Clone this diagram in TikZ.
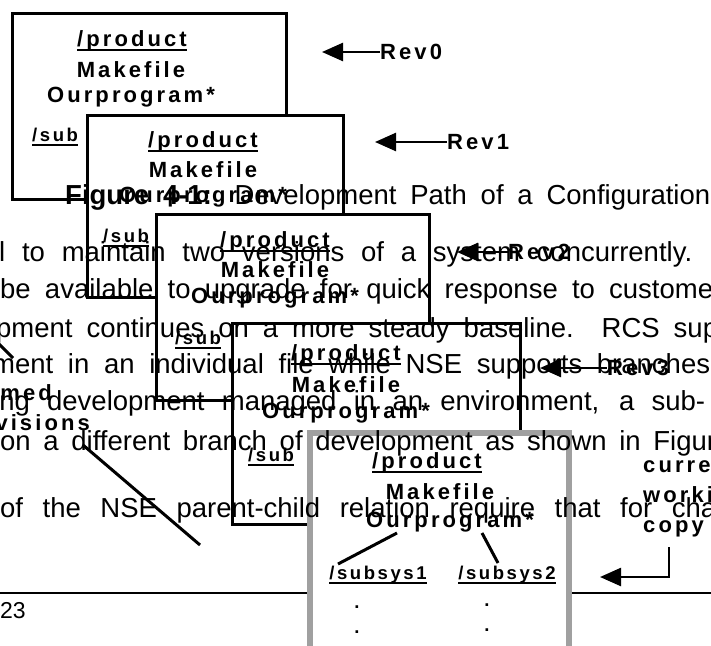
\documentclass[tikz,border=0pt]{standalone}
\usepackage{fontspec}
\setmainfont{Liberation Sans}
\newfontfamily\figfont[LetterSpace=14]{Liberation Sans}
\usetikzlibrary{arrows.meta}
\definecolor{boxgray}{RGB}{160,160,160}

\newcommand{\figul}[1]{\setbox0=\hbox{#1}\rlap{\raisebox{-4pt}{\rule{\wd0}{1.6pt}}}\box0}

\tikzset{
    verbox/.style={draw, line width=3pt, fill=white, anchor=north west, outer sep=0pt, inner sep=0pt},
    figlbl/.style={font=\figfont\bfseries\fontsize{22}{24}\selectfont, inner sep=0pt},
    sublbl/.style={font=\figfont\bfseries\fontsize{18.5}{20}\selectfont, inner sep=0pt},
    pagetxt/.style={font=\fontsize{27.5}{30}\selectfont, inner sep=0pt, anchor=base west},
    revarrow/.style={line width=2.5pt, -{Triangle[length=21pt, width=18pt]}},
    figline/.style={line width=3pt}
}

\begin{document}
\begin{tikzpicture}[x=1pt, y=-1pt]
                \useasboundingbox (0,0) rectangle (711,645);
                \clip (0,0) rectangle (711,645);

                % page rule and page number
                \coordinate (rulel) at (0,593);
                \coordinate (ruler) at (711,593);
                \draw[line width=1.2pt] (rulel) -- (ruler);
                \node[pagetxt, font=\fontsize{23}{26}\selectfont] (pgno) at (0,618) {23};

                % Rev0
                \node[verbox, minimum width=274pt, minimum height=186pt] (box0) at (12,13) {};
                \node[figlbl] (prod0) at (132,41) {\figul{/product}};
                \node[figlbl] (make0) at (131,70) {Makefile};
                \node[figlbl] (prog0) at (131,97) {Ourprogram*};
                \node[sublbl, anchor=west] (sub0) at (32,137) {\figul{/sub}};

                % Rev1
                \node[verbox, minimum width=256pt, minimum height=182pt] (box1) at (87,115) {};
                \node[figlbl] (prod1) at (203,142) {\figul{/product}};
                \node[figlbl] (make1) at (203,170) {Makefile};
                \node[figlbl] (prog1) at (203,197) {Ourprogram*};
                \node[sublbl, anchor=west] (sub1) at (103,238) {\figul{/sub}};

                % Rev2
                \node[verbox, minimum width=273pt, minimum height=186pt] (box2) at (156,214) {};
                \node[figlbl] (prod2) at (275,242) {\figul{/product}};
                \node[figlbl] (make2) at (275,270) {Makefile};
                \node[figlbl] (prog2) at (275,298) {Ourprogram*};
                \node[sublbl, anchor=west] (sub2) at (175,340) {\figul{/sub}};

                % Rev3
                \node[verbox, minimum width=288pt, minimum height=201pt] (box3) at (232,323) {};
                \node[figlbl] (prod3) at (346,355) {\figul{/product}};
                \node[figlbl] (make3) at (346,385) {Makefile};
                \node[figlbl] (prog3) at (346,413) {Ourprogram*};
                \node[sublbl, anchor=west] (sub3) at (248,457) {\figul{/sub}};

                % current working copy
                \node[verbox, draw=boxgray, line width=6pt, minimum width=259pt, minimum height=260pt] (box4) at (310,433) {};
                \node[figlbl] (prod4) at (427,463) {\figul{/product}};
                \node[figlbl] (make4) at (440,492) {Makefile};
                \node[figlbl] (prog4) at (450,522) {Ourprogram*};
                \node[sublbl] (subsys1) at (378,575) {\figul{/subsys1}};
                \node[sublbl] (subsys2) at (507,575) {\figul{/subsys2}};
                \node[sublbl] (dot1a) at (357,607) {.};
                \node[sublbl] (dot1b) at (357,632) {.};
                \node[sublbl] (dot2a) at (487,605) {.};
                \node[sublbl] (dot2b) at (487,630) {.};

                % prog4 -> subsys1, prog4 -> subsys2
                \draw[figline] ([xshift=-53pt, yshift=-11pt]prog4.center) -- ([xshift=-40pt, yshift=11pt]subsys1.center);
                \draw[figline] ([xshift=32pt, yshift=-11pt]prog4.center) -- ([xshift=-9pt, yshift=12pt]subsys2.center);

                % page text
                \node[pagetxt] (capt) at (65,204) {\makebox[645pt][s]{\textbf{Figure 4-1:} Development Path of a Configuration}};
                \node[pagetxt] (ln1) at (-1,261) {\makebox[693pt][s]{l to maintain two versions of a system concurrently.}};
                \node[pagetxt] (ln2) at (0,298) {\makebox[713pt][s]{be available to upgrade for quick response to custome}};
                \node[pagetxt] (ln3) at (-4,337) {\makebox[722pt][s]{pment continues on a more steady baseline.\ \ RCS sup}};
                \node[pagetxt] (ln4) at (-8,373) {\makebox[718pt][s]{ment in an individual file while NSE supports branches}};
                \node[pagetxt] (ln5) at (-7,410) {\makebox[712pt][s]{ing development managed in an environment, a sub-}};
                \node[pagetxt] (ln6) at (0,450) {\makebox[716pt][s]{on a different branch of development as shown in Figur}};
                \node[pagetxt] (ln7) at (0,517) {\makebox[716pt][s]{of the NSE parent-child relation require that for cha}};

                % Rev labels
                \node[figlbl, anchor=west] (rev0) at (380,52) {Rev0};
                \node[figlbl, anchor=west] (rev1) at (447,142) {Rev1};
                \node[figlbl, anchor=west] (rev2) at (508,252) {Rev2};
                \node[figlbl, anchor=west] (rev3) at (607,368) {Rev3};
                \coordinate (tip0) at (322,52);
                \coordinate (tip1) at (375,142);
                \coordinate (tip2) at (457,252);
                \coordinate (tip3) at (540,368);

                % rev labels -> boxes
                \draw[revarrow] (rev0.west) -- (tip0);
                \draw[revarrow] (rev1.west) -- (tip1);
                \draw[revarrow] (rev2.west) -- (tip2);
                \draw[revarrow] (rev3.west) -- (tip3);

                % working copy label
                \node[figlbl, anchor=base west] (curr) at (643,472) {current};
                \node[figlbl, anchor=base west] (work) at (643,502) {working};
                \node[figlbl, anchor=base west] (copy) at (643,532) {copy};
                \coordinate (cwtop) at (669,547);
                \coordinate (cwtip) at (600,577);

                % copy -> box4
                \draw[revarrow] (cwtop) |- (cwtip);

                % left labels
                \node[figlbl, anchor=base east] (unnamed) at (52,400) {med};
                \node[figlbl, anchor=base east] (revs) at (90,430) {visions};
                \coordinate (unnA) at (-3,342);
                \coordinate (unnB) at (13,358);
                \coordinate (revsA) at (83,445);
                \coordinate (revsB) at (200,545);

                % labels -> boxes
                \draw[figline] (unnA) -- (unnB);
                \draw[figline] (revsA) -- (revsB);

\end{tikzpicture}
\end{document}
